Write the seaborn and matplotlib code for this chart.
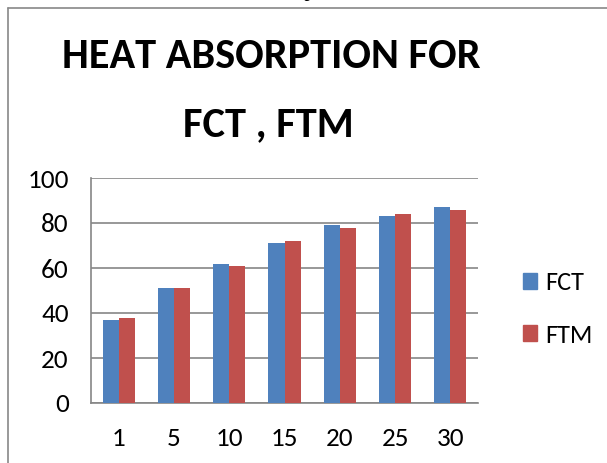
import pandas as pd
import seaborn as sns
import matplotlib.pyplot as plt
from matplotlib.lines import Line2D

# --- data ---
days = ['1', '5', '10', '15', '20', '25', '30']
fct = [37, 51, 62, 71, 79, 83, 87]
ftm = [38, 51, 61, 72, 78, 84, 86]
series = ['FCT', 'FTM']
colors = ['#4F81BD', '#C0504D']

df = pd.concat([
    pd.DataFrame({'Day': days, 'Value': fct, 'Series': 'FCT'}),
    pd.DataFrame({'Day': days, 'Value': ftm, 'Series': 'FTM'}),
], ignore_index=True)

sns.set_theme(style='white')
plt.rcParams['font.family'] = ['Carlito', 'Lato', 'DejaVu Sans']
plt.rcParams['text.color'] = 'black'

fig = plt.figure(figsize=(6.07, 4.63), dpi=100)
ax = fig.add_axes([91 / 607, 60 / 463, 387 / 607, 225 / 463])

sns.barplot(data=df, x='Day', y='Value', hue='Series', order=days,
            hue_order=series, palette=colors, saturation=1, width=0.58, ax=ax,
            edgecolor='none', legend=False, zorder=3)

ax.set_ylim(0, 100)
ax.set_yticks(range(0, 101, 20))
ax.set_xlabel('')
ax.set_ylabel('')
ax.grid(axis='y', color='#868686', linewidth=1.2, zorder=0)
for s in ['top', 'right']:
    ax.spines[s].set_visible(False)
for s in ['left', 'bottom']:
    ax.spines[s].set_color('#868686')
    ax.spines[s].set_linewidth(1.2)
ax.tick_params(axis='both', length=0, labelsize=19.5, colors='black')
ax.tick_params(axis='x', pad=17)
ax.tick_params(axis='y', pad=16)

# title, two lines, slightly left of the axes centre
fig.text(271 / 607, 1 - 56 / 463, 'HEAT ABSORPTION FOR', ha='center', va='center',
         fontsize=30.5, fontweight='bold')
fig.text(268 / 607, 1 - 125 / 463, 'FCT , FTM', ha='center', va='center',
         fontsize=30.5, fontweight='bold')

# legend at the right
handles = [plt.Rectangle((0, 0), 1, 1, color=c) for c in colors]
fig.legend(handles, series, loc='center left', bbox_to_anchor=(499 / 607, 1 - 309 / 463),
           frameon=False, fontsize=19, handlelength=0.55, handleheight=0.55,
           handletextpad=0.3, labelspacing=1.1)

# page caption cut off at the top, and the outer frame
fig.text(310 / 607, 1 + 8 / 463, 'Graph 6.', ha='center', va='center',
         fontsize=15, family=['Liberation Serif'])
fig.add_artist(Line2D([8 / 607, 8 / 607], [0, 1 - 8 / 463], color='#888888', lw=1.2))
fig.add_artist(Line2D([8 / 607, 1], [1 - 8 / 463, 1 - 8 / 463], color='#888888', lw=1.2))

fig.savefig('out.png', dpi=100)
